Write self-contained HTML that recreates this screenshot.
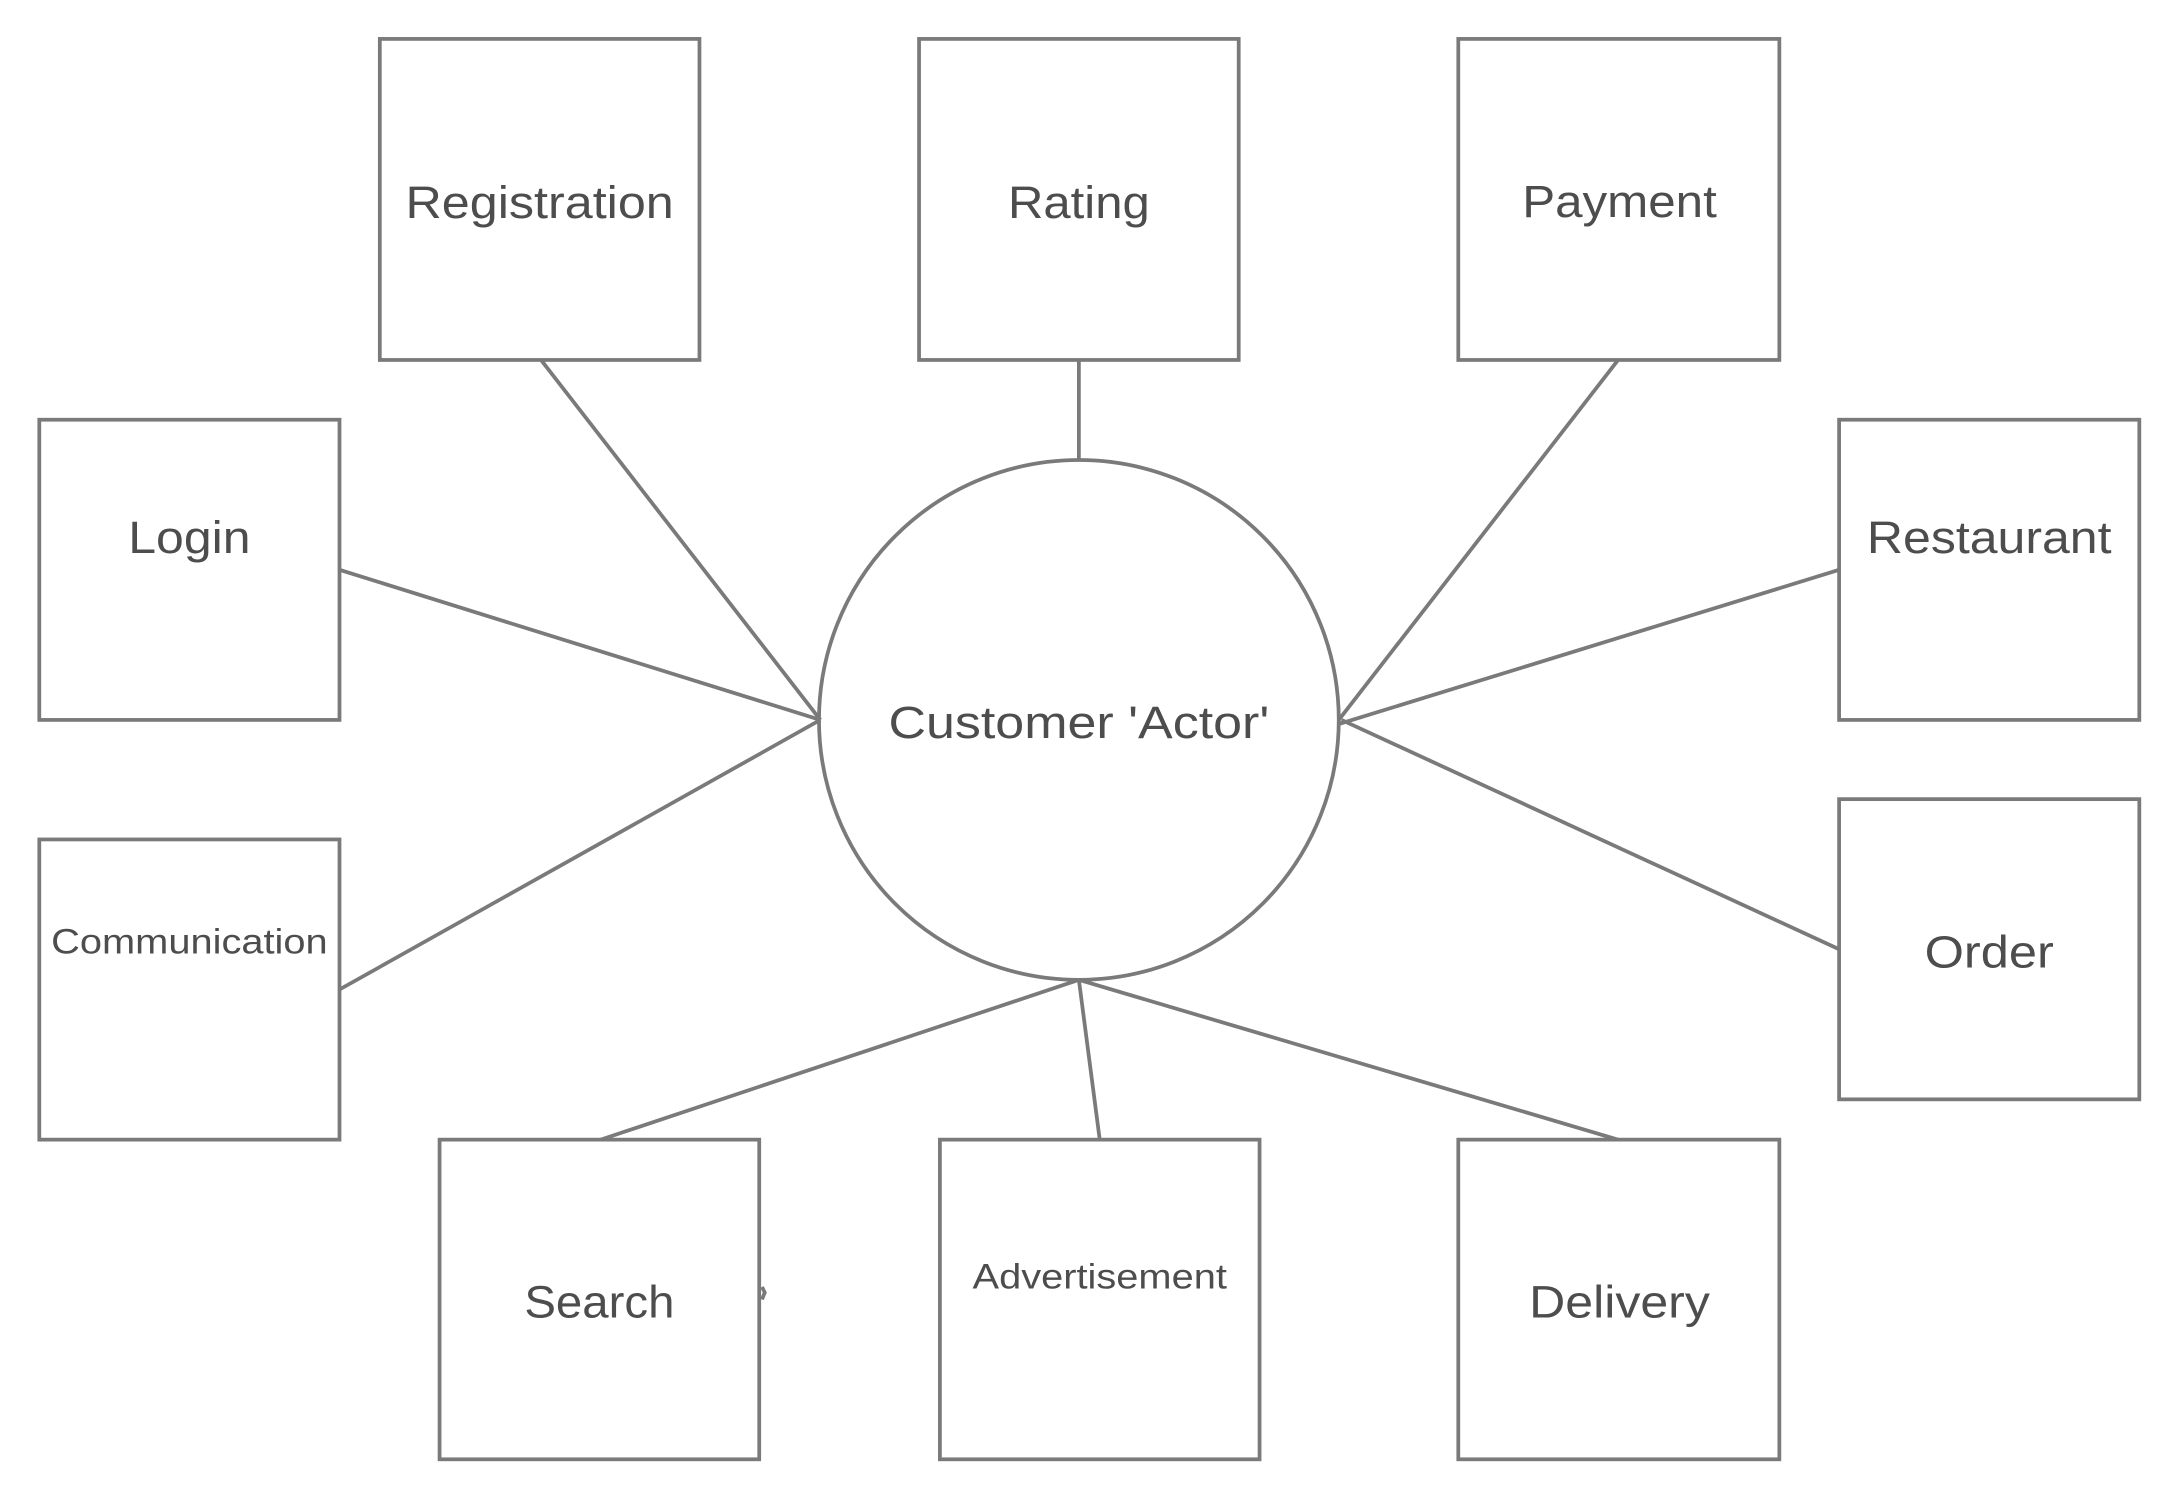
<!DOCTYPE html>
<html><head><meta charset="utf-8"><style>
html,body{margin:0;padding:0;background:#fff;}
svg{display:block;}
text{font-family:"Liberation Sans",sans-serif;fill:#4d4d4d;}
</style></head><body>
<svg width="2180" height="1501" viewBox="0 0 1568 1080" xmlns="http://www.w3.org/2000/svg">
<g fill="none" stroke="#7a7a7a" stroke-width="2.7">
<rect x="273" y="28" width="230" height="231"/>
<rect x="661" y="28" width="230" height="231"/>
<rect x="1049" y="28" width="231" height="231"/>
<rect x="28" y="302" width="216" height="216"/>
<rect x="1323" y="302" width="216" height="216"/>
<rect x="28" y="604" width="216" height="216"/>
<rect x="1323" y="575" width="216" height="216"/>
<rect x="316" y="820" width="230" height="230"/>
<rect x="676" y="820" width="230" height="230"/>
<rect x="1049" y="820" width="231" height="230"/>
<circle cx="776" cy="518" r="187"/>
<line x1="389" y1="259" x2="590" y2="518"/>
<line x1="776" y1="259" x2="776" y2="331"/>
<line x1="1164" y1="259" x2="963" y2="518"/>
<line x1="244" y1="410" x2="590" y2="518"/>
<line x1="244" y1="712" x2="590" y2="518"/>
<line x1="1323" y1="410" x2="963" y2="521"/>
<line x1="1323" y1="683" x2="965" y2="518"/>
<line x1="432" y1="820" x2="776" y2="705"/>
<line x1="791" y1="820" x2="776" y2="705"/>
<line x1="1164" y1="820" x2="776" y2="705"/>
<path d="M548 926 l2 4 l-2 5"/>
</g>
<g text-anchor="middle" font-size="33">
<text x="388" y="157" textLength="193" lengthAdjust="spacingAndGlyphs">Registration</text>
<text x="776" y="157" textLength="102" lengthAdjust="spacingAndGlyphs">Rating</text>
<text x="1165" y="156" textLength="140" lengthAdjust="spacingAndGlyphs">Payment</text>
<text x="136" y="398" textLength="88" lengthAdjust="spacingAndGlyphs">Login</text>
<text x="1431" y="398" textLength="176" lengthAdjust="spacingAndGlyphs">Restaurant</text>
<text x="1431" y="696" textLength="93" lengthAdjust="spacingAndGlyphs">Order</text>
<text x="431" y="948" textLength="108" lengthAdjust="spacingAndGlyphs">Search</text>
<text x="1165" y="948" textLength="130" lengthAdjust="spacingAndGlyphs">Delivery</text>
<text x="776" y="531" textLength="274" lengthAdjust="spacingAndGlyphs">Customer 'Actor'</text>
<text x="136" y="686" font-size="25" textLength="199" lengthAdjust="spacingAndGlyphs">Communication</text>
<text x="791" y="927" font-size="25" textLength="183" lengthAdjust="spacingAndGlyphs">Advertisement</text>
</g>
</svg>
</body></html>
